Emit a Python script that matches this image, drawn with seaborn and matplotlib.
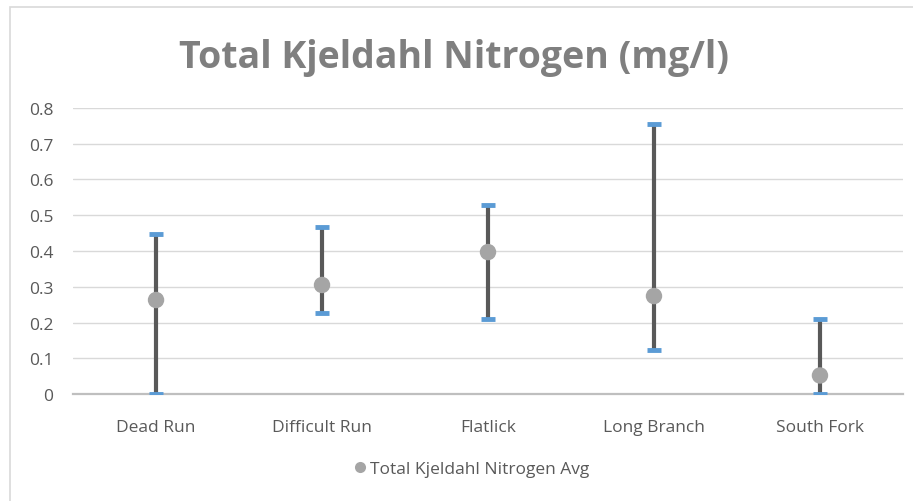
import seaborn as sns
import matplotlib.pyplot as plt
import pandas as pd
from matplotlib.patches import Rectangle

# Data
sites = ['Dead Run', 'Difficult Run', 'Flatlick', 'Long Branch', 'South Fork']
tkn_avg = [0.263, 0.305, 0.397, 0.274, 0.052]
tkn_max = [0.448, 0.467, 0.529, 0.754, 0.211]
tkn_min = [0.0, 0.227, 0.209, 0.122, 0.0]


def tkn_chart():
    """Total Kjeldahl Nitrogen average with min/max range per site."""
    df = pd.DataFrame({'site': sites, 'avg': tkn_avg,
                       'max': tkn_max, 'min': tkn_min})

    sns.set_style('white')
    plt.rcParams['font.family'] = ['Open Sans', 'DejaVu Sans']

    fig = plt.figure(figsize=(9.13, 5.02), dpi=100)
    ax = fig.add_axes([0.080, 0.213, 0.909, 0.570])

    # Outer chart border
    fig.patches.append(Rectangle((9.5 / 913, -0.01), 1.0, 1 - 7.5 / 502 + 0.01,
                                 transform=fig.transFigure, fill=False,
                                 edgecolor='#D9D9D9', linewidth=1.2))

    # Range lines and caps
    ax.vlines(df['site'], df['min'], df['max'], color='#595959',
              linewidth=3, zorder=3)
    ax.scatter(df['site'], df['max'], marker='_', s=100, linewidths=3.5,
               color='#5B9BD5', zorder=4)
    ax.scatter(df['site'], df['min'], marker='_', s=100, linewidths=3.5,
               color='#5B9BD5', zorder=4)

    # Averages
    sns.scatterplot(data=df, x='site', y='avg', ax=ax, s=140,
                    color='#A5A5A5', edgecolor='none', zorder=5,
                    label='Total Kjeldahl Nitrogen Avg', legend=False)

    ax.set_xlim(-0.5, 4.5)
    ax.set_ylim(0, 0.8)
    ax.set_yticks([i / 10 for i in range(9)])
    ax.set_yticklabels(['0'] + ['%.1f' % (i / 10) for i in range(1, 9)])
    ax.yaxis.grid(True, color='#D9D9D9', linewidth=1)
    ax.set_axisbelow(True)
    for side in ['left', 'right', 'top']:
        ax.spines[side].set_visible(False)
    ax.spines['bottom'].set_color('#BFBFBF')
    ax.spines['bottom'].set_linewidth(1.6)
    ax.tick_params(axis='both', length=0, labelsize=12.5,
                   labelcolor='#595959')
    ax.tick_params(axis='x', pad=18)
    ax.tick_params(axis='y', pad=14)
    ax.set_xlabel('')
    ax.set_ylabel('')

    fig.text(0.497, 0.884, 'Total Kjeldahl Nitrogen (mg/l)', ha='center',
             va='center', fontsize=27, fontweight='bold', color='#7F7F7F')

    handle = plt.Line2D([], [], linestyle='none', marker='o', markersize=8,
                        markerfacecolor='#A5A5A5', markeredgecolor='none')
    fig.legend([handle], ['Total Kjeldahl Nitrogen Avg'], loc='center',
               bbox_to_anchor=(0.515, 0.064), frameon=False, fontsize=12.5,
               labelcolor='#595959', handletextpad=0.1, handlelength=1.0)

    fig.savefig('out.png', dpi=100)


def main():
    tkn_chart()


if __name__ == "__main__":
    main()
